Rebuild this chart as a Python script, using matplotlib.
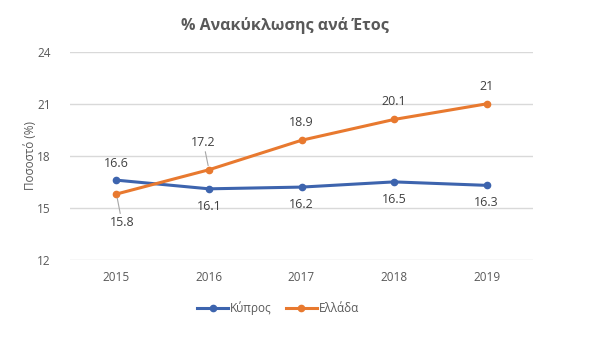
import matplotlib
matplotlib.use("Agg")
import matplotlib.pyplot as plt

years = ["2015", "2016", "2017", "2018", "2019"]
cyprus = [16.6, 16.1, 16.2, 16.5, 16.3]
greece = [15.8, 17.2, 18.9, 20.1, 21]
cyprus_labels = ["16.6", "16.1", "16.2", "16.5", "16.3"]
greece_labels = ["15.8", "17.2", "18.9", "20.1", "21"]
yticks = [12, 15, 18, 21, 24]

plt.rcParams['font.family'] = ['Open Sans', 'DejaVu Sans']

fig = plt.figure(figsize=(6, 3.6), dpi=100)
ax = fig.add_axes([0.117, 0.278, 0.771, 0.578])

blue = "#3D64AE"
orange = "#E8792F"
x = list(range(len(years)))

ax.plot(x, cyprus, color=blue, lw=2.2, marker='o', ms=4.5, label="Κύπρος", zorder=3)
ax.plot(x, greece, color=orange, lw=2.2, marker='o', ms=4.5, label="Ελλάδα", zorder=3)

ax.set_xlim(-0.5, len(years) - 0.5)
ax.set_ylim(12, 24)
ax.set_yticks(yticks)
ax.set_xticks(x)
ax.set_xticklabels(years)
ax.grid(axis='y', color="#D9D9D9", lw=1)
ax.set_axisbelow(True)
for s in ax.spines.values():
    s.set_visible(False)
ax.tick_params(length=0, labelsize=8.5, colors="#595959")
ax.tick_params(axis='x', pad=8)
ax.tick_params(axis='y', pad=14)

ax.set_ylabel("Ποσοστό (%)", fontsize=8.5, color="#595959", labelpad=0)

txtc = "#404040"
# Cyprus labels: first above, rest below
for i, (v, lab) in enumerate(zip(cyprus, cyprus_labels)):
    if i == 0:
        ax.annotate(lab, (i, v), xytext=(0, 7), textcoords='offset points',
                    ha='center', va='bottom', fontsize=9, color=txtc)
    else:
        ax.annotate(lab, (i, v), xytext=(0, -8), textcoords='offset points',
                    ha='center', va='top', fontsize=9, color=txtc)
# Greece labels
for i, (v, lab) in enumerate(zip(greece, greece_labels)):
    if i == 0:
        ax.annotate(lab, (i, v), xytext=(4, -16), textcoords='offset points',
                    ha='center', va='top', fontsize=9, color=txtc,
                    arrowprops=dict(arrowstyle='-', color='#A6A6A6', lw=0.8, shrinkA=0, shrinkB=3))
    elif i == 1:
        ax.annotate(lab, (i, v), xytext=(-4, 15), textcoords='offset points',
                    ha='center', va='bottom', fontsize=9, color=txtc,
                    arrowprops=dict(arrowstyle='-', color='#A6A6A6', lw=0.8, shrinkA=0, shrinkB=3))
    else:
        ax.annotate(lab, (i, v), xytext=(0, 8), textcoords='offset points',
                    ha='center', va='bottom', fontsize=9, color=txtc)

fig.text(0.475, 0.93, "% Ανακύκλωσης ανά Έτος", ha='center', va='center',
         fontsize=11.5, fontweight='bold', color="#595959")

ax.legend(loc='center', bbox_to_anchor=(0.45, -0.23), ncol=2, frameon=False,
          fontsize=8.5, labelcolor="#595959", handlelength=2.6, columnspacing=1.2,
          handletextpad=0.2)

fig.savefig("out.png", dpi=100, facecolor='white')
